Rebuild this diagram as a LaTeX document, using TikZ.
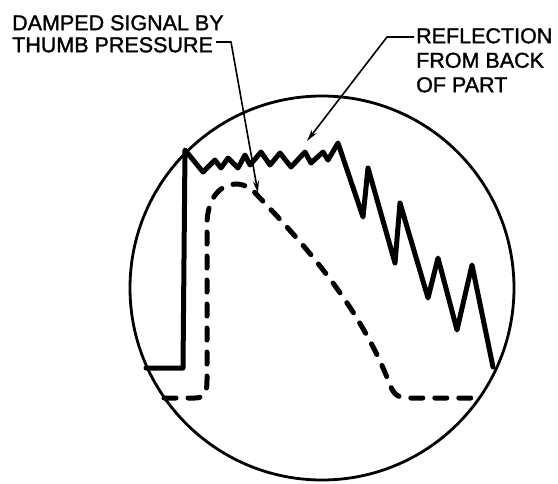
\documentclass[tikz,border=0pt]{standalone}
\usepackage{fontspec}
\setmainfont{Liberation Sans}
\newfontfamily\lblfont[FakeBold=1.4]{Liberation Sans}
\usetikzlibrary{arrows.meta}
\begin{document}
\begin{tikzpicture}[x=1pt,y=-1pt,
  lbl/.style={inner sep=0pt,anchor=north west,align=left,font=\lblfont\fontsize{21.5}{22}\selectfont},
  lbl2/.style={inner sep=0pt,anchor=north west,align=left,font=\lblfont\fontsize{21.5}{24.5}\selectfont},
  scope/.style={line width=2.8pt},
  trace/.style={line width=5pt,line join=round,line cap=round},
  damped/.style={line width=5pt,line cap=round,dash pattern=on 12pt off 12pt},
  leader/.style={line width=1.6pt,-{Stealth[length=12pt,width=6pt]}}]
\useasboundingbox (0,0) rectangle (558,483);
% screen
\node[draw,circle,scope,minimum size=384pt,inner sep=0pt] (screen) at (322,288) {};
% labels
\node[lbl] (dtext) at (12,15) {DAMPED SIGNAL BY\\THUMB PRESSURE};
\node[lbl2] (rtext) at (416,28) {REFLECTION\\FROM BACK\\OF PART};
% signal trace
\draw[trace] (146,368) coordinate (s0) -- (183,368) -- (185,150) -- (203,172) -- (215,160) -- (221,168) -- (228,158) -- (238,168) -- (245,155) -- (250,165) -- (261,152) -- (270,165) -- (280,153) -- (291,167) -- (305,152) -- (311,163) -- (323,152) -- (328,160) -- (338,143) -- (363,217) -- (368,168) -- (395,263) -- (400,203) -- (428,298) -- (438,258) -- (457,330) -- (472,265) -- (493,367) coordinate (s1);
% damped signal
\draw[damped] (164,398) -- (195,398) .. controls (205,398) and (207,392) .. (207,380) -- (207,225) .. controls (207,196) and (222,184) .. (236,184) .. controls (246,184) and (253,190) .. (258,196) coordinate (dtop) .. controls (300,240) and (360,305) .. (390,385) .. controls (394,395) and (398,398) .. (410,398) -- (482,398);
% leaders
\coordinate (d1) at (216,42);
\coordinate (d2) at (231,42);
\coordinate (dtip) at (258,193);
\draw[leader] (d1) -- (d2) -- (dtip);
\coordinate (r1) at (414,37);
\coordinate (r2) at (387,37);
\coordinate (rtip) at (307,141);
\draw[leader] (r1) -- (r2) -- (rtip);
\end{tikzpicture}
\end{document}
